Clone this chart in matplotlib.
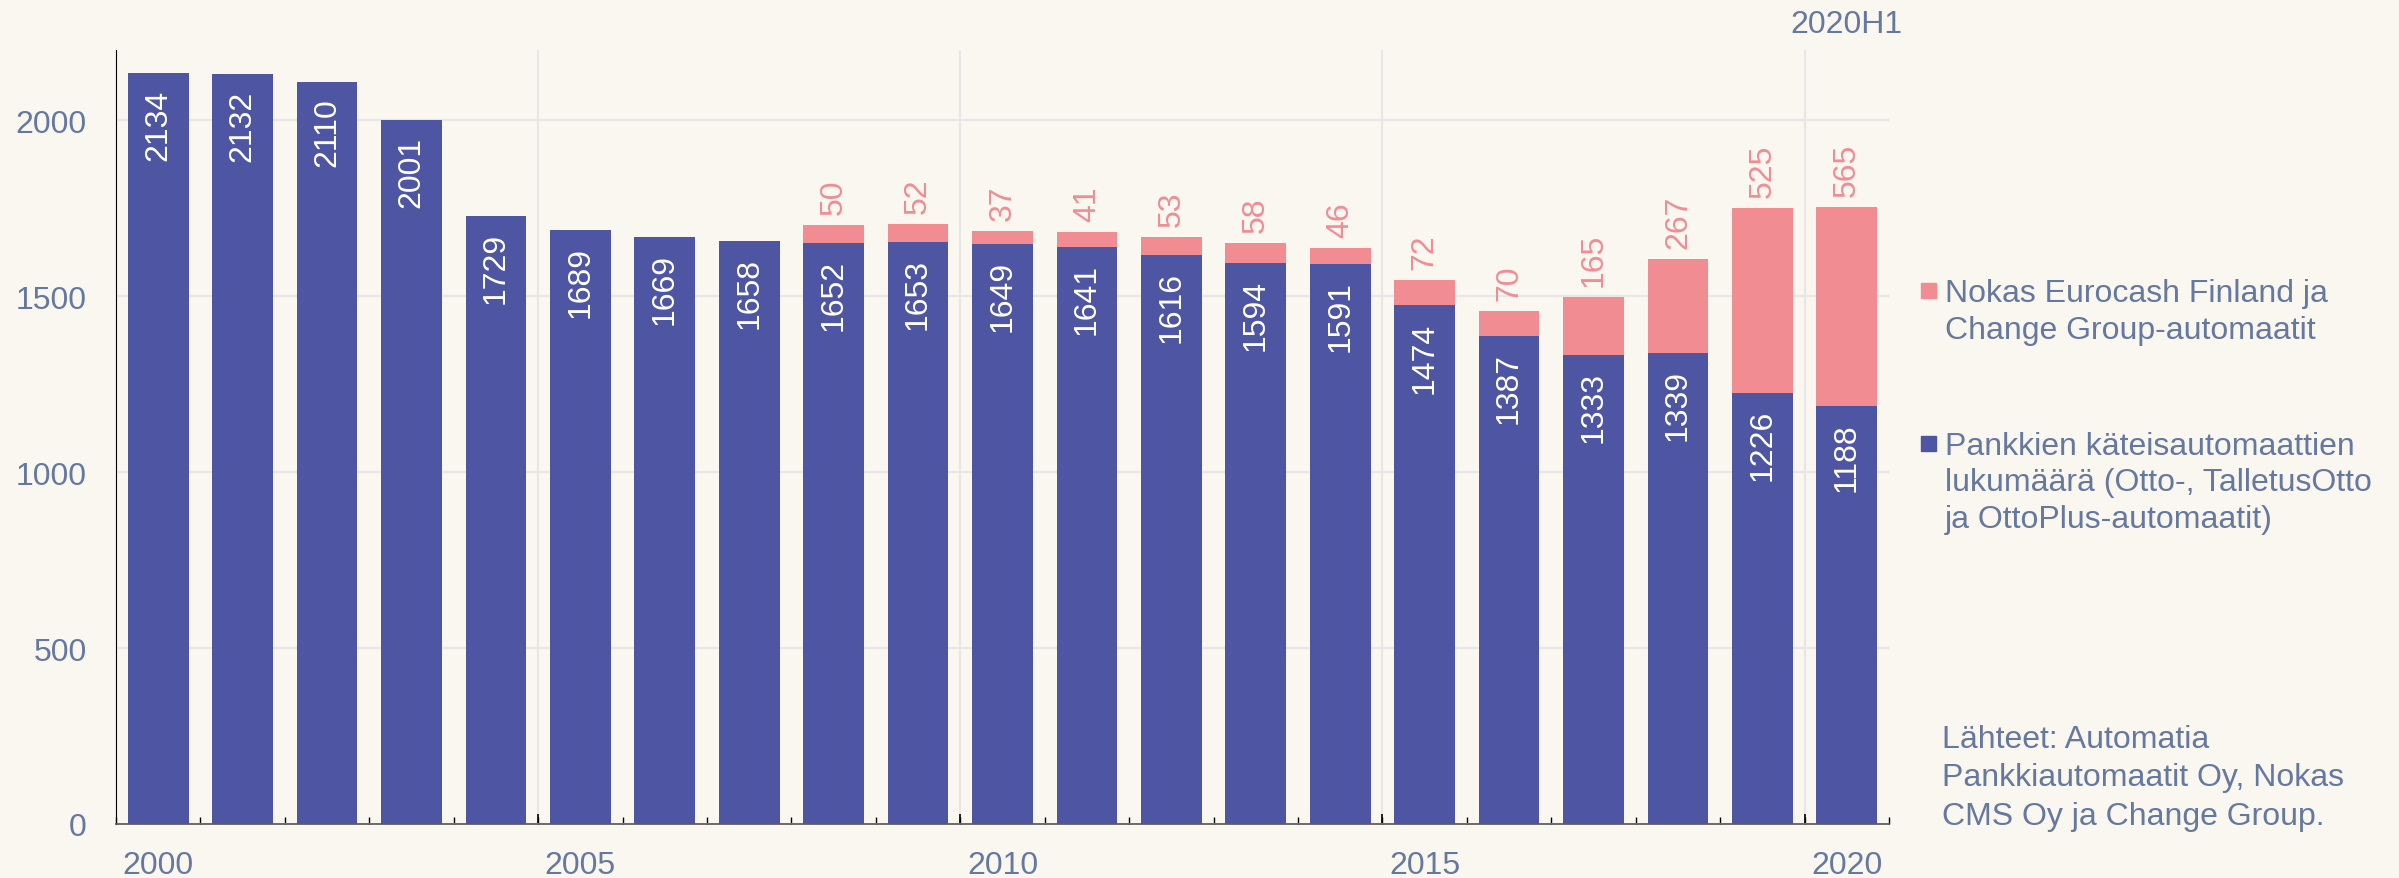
import numpy as np
import matplotlib.pyplot as plt
from matplotlib.patches import Rectangle

# data
categories = [str(y) for y in range(2000, 2020)] + ["2020H1"]
bank_atms = [2134, 2132, 2110, 2001, 1729, 1689, 1669, 1658, 1652, 1653, 1649,
             1641, 1616, 1594, 1591, 1474, 1387, 1333, 1339, 1226, 1188]
other_atms = [0, 0, 0, 0, 0, 0, 0, 0, 50, 52, 37, 41, 53, 58, 46, 72, 70,
              165, 267, 525, 565]
tick_labels = ["2000", "2005", "2010", "2015", "2020"]
legend_labels = [
    "Nokas Eurocash Finland ja\nChange Group-automaatit",
    "Pankkien käteisautomaattien\nlukumäärä (Otto-, TalletusOtto\nja OttoPlus-automaatit)",
]
source_text = "Lähteet: Automatia\nPankkiautomaatit Oy, Nokas\nCMS Oy ja Change Group."

# colours
bg = "#faf6f0"
blue = "#4e55a3"
pink = "#f18c93"
text_col = "#6478a0"
grid_col = "#e8e6e6"

plt.rcParams["font.family"] = ["Liberation Sans", "DejaVu Sans"]
fs = 23

W, H = 2399, 879
fig = plt.figure(figsize=(W / 100, H / 100), dpi=100, facecolor=bg)
ax = fig.add_axes([116 / W, (H - 825) / H, (1889 - 116) / W, (825 - 51) / H])
ax.set_facecolor(bg)

x = np.arange(len(categories))
bank = np.array(bank_atms)
other = np.array(other_atms)

ax.bar(x, bank, width=0.72, color=blue, zorder=3)
ax.bar(x, other, width=0.72, bottom=bank, color=pink, zorder=3)

# value labels
for xi, b, o in zip(x, bank, other):
    ax.annotate(str(b), (xi, b), xytext=(0, -16), textcoords="offset pixels",
                rotation=90, ha="center", va="top", color="white",
                fontsize=fs, zorder=4)
    if o > 0:
        ax.annotate(str(o), (xi, b + o), xytext=(0, 11), textcoords="offset pixels",
                    rotation=90, ha="center", va="bottom", color=pink,
                    fontsize=fs, zorder=4)

ax.set_xlim(-0.5, len(categories) - 0.5)
ax.set_ylim(0, 2200)

# grid
ax.set_yticks([0, 500, 1000, 1500, 2000])
ax.yaxis.grid(True, color=grid_col, lw=1.5, zorder=0)
for gx in np.arange(4.5, len(categories) - 1, 5):
    ax.axvline(gx, color=grid_col, lw=1.5, zorder=0)

# axes styling
for s in ["top", "right"]:
    ax.spines[s].set_visible(False)
ax.spines["left"].set_color("black")
ax.spines["left"].set_linewidth(0.8)
ax.spines["bottom"].set_color("#555555")
ax.spines["bottom"].set_linewidth(1.2)

ax.tick_params(axis="y", length=0, pad=21, labelsize=fs, labelcolor=text_col)
ax.set_xticks(x[::5])
ax.set_xticklabels(tick_labels)
ax.tick_params(axis="x", which="major", length=0, pad=19, labelsize=fs,
               labelcolor=text_col)
ax.set_xticks(np.arange(-0.5, len(categories)), minor=True)
ax.tick_params(axis="x", which="minor", direction="in", length=5, width=1,
               color="black")

sec = ax.secondary_xaxis("bottom")
sec.set_xticks(np.arange(4.5, len(categories) - 1, 5))
sec.set_xticklabels([])
sec.tick_params(direction="in", length=7.5, width=1.2, color="black")
sec.spines["bottom"].set_visible(False)

# half-year label above the last bar
ax.annotate(categories[-1], (x[-1], 1), xycoords=("data", "axes fraction"),
            xytext=(0, 26), textcoords="offset pixels", ha="center",
            va="center", color=text_col, fontsize=fs)

# legend drawn by hand
line_h = 36.5
legend_colors = [pink, blue]
legend_tops = [302, 455]
for lab, col, base in zip(legend_labels, legend_colors, legend_tops):
    fig.patches.append(Rectangle((1921 / W, (H - base + 3) / H), 15 / W, 15 / H,
                                 transform=fig.transFigure, color=col))
    for i, line in enumerate(lab.split("\n")):
        fig.text(1945 / W, (H - base - i * line_h) / H, line, ha="left",
                 va="baseline", color=text_col, fontsize=fs)

for i, line in enumerate(source_text.split("\n")):
    fig.text(1942 / W, (H - 748 - i * 38.5) / H, line, ha="left",
             va="baseline", color=text_col, fontsize=fs)

fig.savefig("out.png", dpi=100, facecolor=bg)
